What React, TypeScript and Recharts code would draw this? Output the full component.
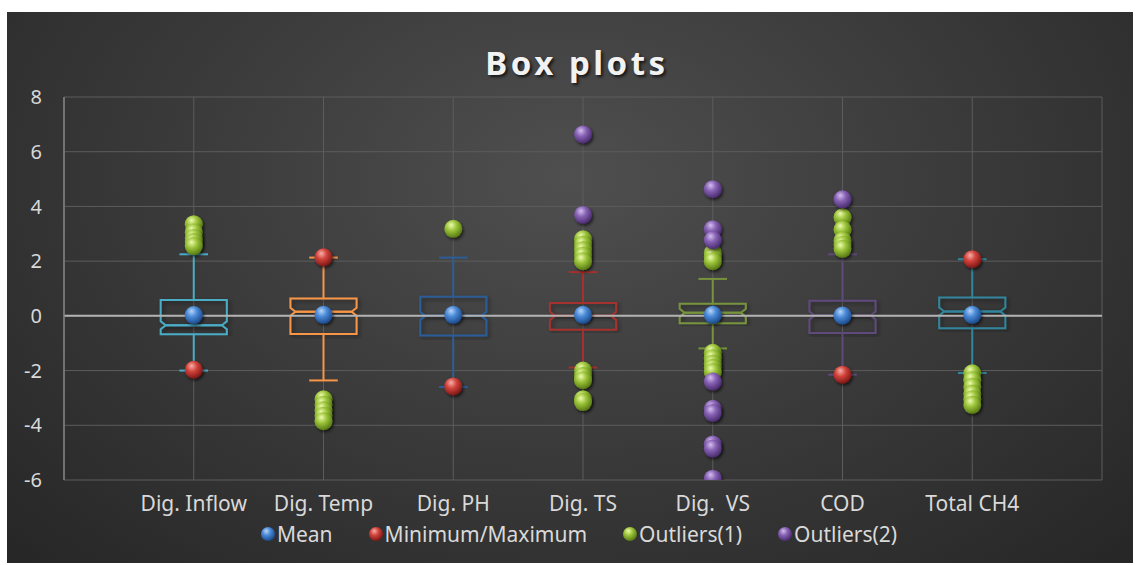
import React from 'react';
import {
  ComposedChart,
  Scatter,
  XAxis,
  YAxis,
  CartesianGrid,
  ReferenceLine,
  ReferenceArea,
} from 'recharts';

// categories and box statistics
const categories = ['Dig. Inflow', 'Dig. Temp', 'Dig. PH', 'Dig. TS', 'Dig.\u00a0 VS', 'COD', 'Total CH4'];
const boxColors = ['#4bacc6', '#f79646', '#2c5d97', '#a5302e', '#77933c', '#604a7b', '#31859c'];
const whiskerLow = [-2.0, -2.36, -2.6, -1.89, -1.19, -2.15, -2.09];
const q1 = [-0.67, -0.66, -0.72, -0.51, -0.27, -0.63, -0.45];
const median = [-0.34, 0.15, 0.0, 0.0, 0.11, 0.01, 0.16];
const q3 = [0.58, 0.63, 0.7, 0.47, 0.44, 0.55, 0.67];
const whiskerHigh = [2.25, 2.13, 2.13, 1.6, 1.35, 2.25, 2.07];

const means = [0.03, 0.04, 0.04, 0.04, 0.04, 0.01, 0.04];
const minMax = [[-1.97], [2.14], [-2.58], [], [], [-2.15], [2.07]];
const outliers1 = [
  [3.35, 3.05, 2.85, 2.7, 2.55],
  [-3.05, -3.25, -3.45, -3.65, -3.85],
  [3.18],
  [2.8, 2.6, 2.4, 2.2, 2.0, -2.0, -2.2, -2.35, -3.05, -3.15],
  [2.3, 2.15, 2.0, -1.35, -1.55, -1.75, -1.9, -2.05],
  [3.6, 3.15, 2.75, 2.6, 2.45],
  [-2.1, -2.35, -2.6, -2.85, -3.05, -3.25],
];
const outliers2 = [
  [],
  [],
  [],
  [6.63, 3.69],
  [4.63, 3.17, 2.77, -2.4, -3.4, -3.55, -4.7, -4.85, -5.95],
  [4.26],
  [],
];

const yTicks = [-6, -4, -2, 0, 2, 4, 6, 8];
const xTicks = [0, 1, 2, 3, 4, 5, 6, 7, 8];

const toPoints = (lists: number[][]) =>
  lists.flatMap((vals, i) => vals.map((v) => ({ x: i + 1, y: v })));

const meanData = means.map((v, i) => ({ x: i + 1, y: v }));
const minMaxData = toPoints(minMax);
const out1Data = toPoints(outliers1);
const out2Data = toPoints(outliers2);

const spheres = [
  { id: 'sBlue', hi: '#b9d6f7', mid: '#4a8ad8', lo: '#1d4b8c', label: 'Mean' },
  { id: 'sRed', hi: '#f6b0a8', mid: '#d2433c', lo: '#7c1816', label: 'Minimum/Maximum' },
  { id: 'sGreen', hi: '#eefab0', mid: '#9cc53a', lo: '#587a15', label: 'Outliers(1)' },
  { id: 'sPurple', hi: '#d5bdf0', mid: '#8762b3', lo: '#4a2c70', label: 'Outliers(2)' },
];

const textColor = '#d9d9d9';
const font = '"Noto Sans", "Open Sans", sans-serif';

const ball = (id: string, r = 9) => (props: any) => {
  const { cx, cy } = props;
  if (cx == null || cy == null) return <g />;
  return <circle cx={cx} cy={cy} r={r} fill={`url(#${id})`} filter="url(#ballShadow)" />;
};

// half of a notched box: upper = median..q3, lower = q1..median
const halfBox = (color: string, upper: boolean) => (props: any) => {
  const { x, y, width: w, height: h } = props;
  if (x == null || y == null) return <g />;
  const d = 5;
  const n = Math.min(4, Math.abs(h));
  let path;
  if (upper) {
    path = `M ${x + d} ${y + h} L ${x} ${y + h - n} L ${x} ${y} L ${x + w} ${y} L ${x + w} ${y + h - n} L ${x + w - d} ${y + h} Z`;
  } else {
    path = `M ${x + d} ${y} L ${x} ${y + n} L ${x} ${y + h} L ${x + w} ${y + h} L ${x + w} ${y + n} L ${x + w - d} ${y} Z`;
  }
  return <path d={path} fill="none" stroke={color} strokeWidth={2} filter="url(#boxShadow)" />;
};

export default function App() {
  const halfW = 0.255;
  const capW = 0.11;
  return (
    <div
      style={{
        position: 'absolute',
        left: 7,
        top: 12,
        width: 1126,
        height: 551,
        background: 'radial-gradient(ellipse at 50% 30%, #4f4f4f 0%, #3c3c3c 45%, #262626 100%)',
        fontFamily: font,
        overflow: 'hidden',
      }}
    >
      <div
        style={{
          position: 'absolute',
          top: 28,
          width: '100%',
          textAlign: 'center',
          fontSize: 33,
          fontWeight: 700,
          letterSpacing: 3.5,
          color: '#f2f2f2',
          textShadow: '2px 2px 3px rgba(0,0,0,0.7)',
          paddingLeft: 14,
          boxSizing: 'border-box',
        }}
      >
        Box plots
      </div>
      <ComposedChart
        width={1126}
        height={551}
        margin={{ top: 85, right: 31, left: 0, bottom: 43 }}
      >
        <defs>
          {spheres.map((s) => (
            <radialGradient key={s.id} id={s.id} cx="40%" cy="35%" r="65%" fx="38%" fy="28%">
              <stop offset="0%" stopColor={s.hi} />
              <stop offset="45%" stopColor={s.mid} />
              <stop offset="100%" stopColor={s.lo} />
            </radialGradient>
          ))}
          <filter id="ballShadow" x="-50%" y="-50%" width="200%" height="200%">
            <feDropShadow dx="1.5" dy="2" stdDeviation="1.5" floodColor="#000" floodOpacity="0.6" />
          </filter>
          <filter id="boxShadow" x="-20%" y="-20%" width="140%" height="140%">
            <feDropShadow dx="2" dy="2" stdDeviation="2" floodColor="#000" floodOpacity="0.45" />
          </filter>
        </defs>
        <CartesianGrid stroke="#5c5c5c" strokeWidth={1} />
        <XAxis
          type="number"
          dataKey="x"
          domain={[0, 8]}
          ticks={xTicks}
          allowDataOverflow
          interval={0}
          tickFormatter={(v: number) => (v >= 1 && v <= 7 ? categories[v - 1] : '')}
          tick={{ fill: textColor, fontSize: 21, fontFamily: font }}
          tickLine={false}
          axisLine={false}
          tickSize={6}
          tickMargin={10}
          height={40}
        />
        <YAxis
          type="number"
          dataKey="y"
          domain={[-6, 8]}
          ticks={yTicks}
          allowDataOverflow
          interval={0}
          tick={{ fill: textColor, fontSize: 20, fontFamily: font }}
          tickLine={false}
          axisLine={{ stroke: '#808080', strokeWidth: 1.5 }}
          tickSize={6}
          tickMargin={16}
          width={57}
        />
        <ReferenceLine y={0} stroke="#b3b3b3" strokeWidth={2} />

        {categories.map((c, i) => (
          <ReferenceArea
            key={`u-${c}`}
            x1={i + 1 - halfW}
            x2={i + 1 + halfW}
            y1={median[i]}
            y2={q3[i]}
            shape={halfBox(boxColors[i], true)}
          />
        ))}
        {categories.map((c, i) => (
          <ReferenceArea
            key={`l-${c}`}
            x1={i + 1 - halfW}
            x2={i + 1 + halfW}
            y1={q1[i]}
            y2={median[i]}
            shape={halfBox(boxColors[i], false)}
          />
        ))}
        {categories.map((c, i) => (
          <ReferenceLine
            key={`wh-${c}`}
            segment={[{ x: i + 1, y: q3[i] }, { x: i + 1, y: whiskerHigh[i] }]}
            stroke={boxColors[i]}
            strokeWidth={2}
          />
        ))}
        {categories.map((c, i) => (
          <ReferenceLine
            key={`wl-${c}`}
            segment={[{ x: i + 1, y: q1[i] }, { x: i + 1, y: whiskerLow[i] }]}
            stroke={boxColors[i]}
            strokeWidth={2}
          />
        ))}
        {categories.map((c, i) => (
          <ReferenceLine
            key={`ch-${c}`}
            segment={[{ x: i + 1 - capW, y: whiskerHigh[i] }, { x: i + 1 + capW, y: whiskerHigh[i] }]}
            stroke={boxColors[i]}
            strokeWidth={2}
          />
        ))}
        {categories.map((c, i) => (
          <ReferenceLine
            key={`cl-${c}`}
            segment={[{ x: i + 1 - capW, y: whiskerLow[i] }, { x: i + 1 + capW, y: whiskerLow[i] }]}
            stroke={boxColors[i]}
            strokeWidth={2}
          />
        ))}

        <Scatter name="Mean" data={meanData} shape={ball('sBlue')} isAnimationActive={false} />
        <Scatter name="Minimum/Maximum" data={minMaxData} shape={ball('sRed')} isAnimationActive={false} />
        <Scatter name="Outliers(1)" data={out1Data} shape={ball('sGreen')} isAnimationActive={false} />
        <Scatter name="Outliers(2)" data={out2Data} shape={ball('sPurple')} isAnimationActive={false} />
      </ComposedChart>
      <div
        style={{
          position: 'absolute',
          top: 508,
          width: '100%',
          display: 'flex',
          justifyContent: 'center',
          gap: 35,
          color: textColor,
          fontSize: 21,
          paddingLeft: 17,
          boxSizing: 'border-box',
        }}
      >
        {spheres.map((s) => (
          <div key={s.id} style={{ display: 'flex', alignItems: 'center', gap: 1 }}>
            <svg width={16} height={18}>
              <circle cx={8} cy={9} r={7} fill={`url(#${s.id})`} />
            </svg>
            <span>{s.label}</span>
          </div>
        ))}
      </div>
    </div>
  );
}
